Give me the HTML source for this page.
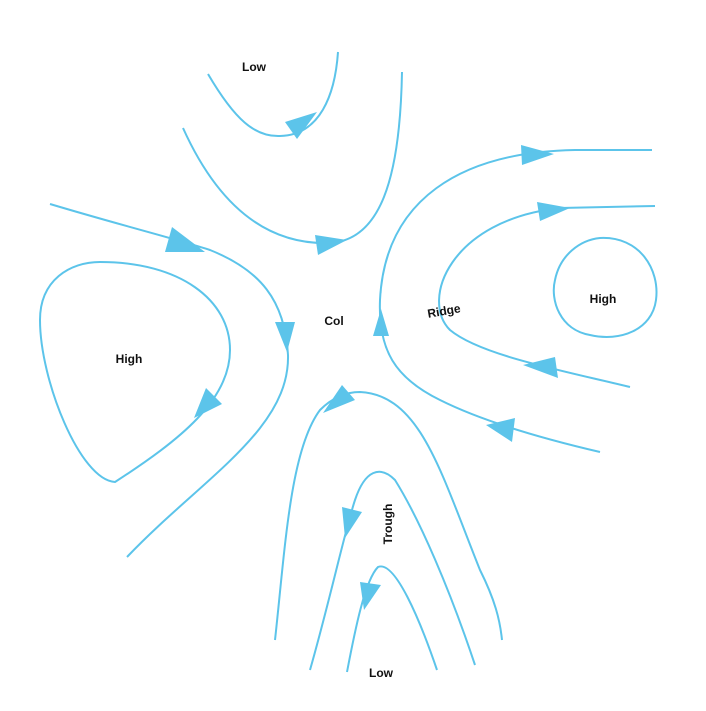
<!DOCTYPE html>
<html><head><meta charset="utf-8"><style>
html,body{margin:0;padding:0;background:#fff;}
svg{display:block;}
text{font-family:"Liberation Sans",sans-serif;font-weight:bold;font-size:12px;fill:#111;}
</style></head><body>
<svg width="706" height="711" viewBox="0 0 706 711" xmlns="http://www.w3.org/2000/svg">
<g fill="none" stroke="#5cc4ea" stroke-width="2">
<path d="M208,74 C235,120 255,137 280,136 C320,135 335,95 338,52"/>
<path d="M183,128 C220,210 270,245 330,243 C380,240 400,180 402,72"/>
<path d="M50,204 C120,225 180,240 210,250 C260,270 285,300 288,355 C290,430 200,480 127,557"/>
<path d="M115,482 C80,480 40,380 40,320 C40,280 70,262 100,262 C180,262 230,300 230,350 C230,400 180,440 115,482Z"/>
<path d="M600,452 C540,438 480,420 440,400 C395,378 378,350 380,300 C385,200 460,152 575,150 L652,150"/>
<path d="M630,387 C560,370 480,355 450,330 C420,300 450,220 560,208 L655,206"/>
<path d="M600,238 C640,236 660,270 656,300 C652,330 620,342 590,335 C560,330 550,300 555,280 C560,255 580,240 600,238Z"/>
<path d="M275,640 C285,550 290,450 320,410 C335,395 350,392 360,392 C420,395 440,470 480,570 C495,600 500,620 502,640"/>
<path d="M310,670 C330,600 345,530 355,500 C365,470 380,465 395,480 C420,520 450,590 475,665"/>
<path d="M347,672 C355,630 365,580 378,567 C395,560 420,620 437,670"/>
</g>
<g fill="#5cc4ea">
<polygon points="285,122 317,112 297,139"/>
<polygon points="315,235 347,240 318,255"/>
<polygon points="172,227 205,252 165,252"/>
<polygon points="275,322 295,322 287,352"/>
<polygon points="206,388 222,404 194,418"/>
<polygon points="521,145 554,154 522,165"/>
<polygon points="537,202 570,208 540,221"/>
<polygon points="373,336 389,336 381,309"/>
<polygon points="555,357 558,378 523,365"/>
<polygon points="515,418 512,442 486,425"/>
<polygon points="342,385 355,400 323,413"/>
<polygon points="342,507 362,512 345,538"/>
<polygon points="360,582 381,585 364,610"/>
</g>
<text x="254" y="71" text-anchor="middle">Low</text>
<text x="334" y="325" text-anchor="middle">Col</text>
<text x="444" y="315" text-anchor="middle" transform="rotate(-10 444 311)">Ridge</text>
<text x="603" y="303" text-anchor="middle">High</text>
<text x="129" y="363" text-anchor="middle">High</text>
<text x="396" y="528" text-anchor="middle" transform="rotate(-90 392 528)">Trough</text>
<text x="381" y="677" text-anchor="middle">Low</text>
</svg>
</body></html>
